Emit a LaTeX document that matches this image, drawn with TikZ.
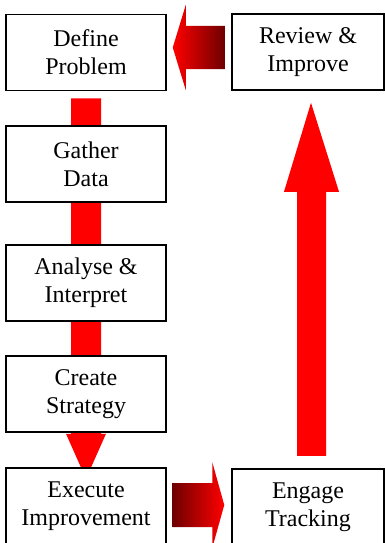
\documentclass[tikz,border=0pt]{standalone}
\usepackage{fontspec}
\setmainfont{Liberation Serif}
\usepackage{tikz}
\usetikzlibrary{calc,backgrounds}

\definecolor{darkarrow}{RGB}{110,0,0}

\begin{document}
\begin{tikzpicture}[x=1pt, y=-1pt,
    every node/.style={font=\fontsize{24}{28}\selectfont},
    stage/.style={draw, line width=1.5pt, fill=white, minimum width=160pt, minimum height=76pt, align=center, inner sep=0pt},
    sidestage/.style={stage, minimum width=152pt}]
  \useasboundingbox (0,0) rectangle (385,543);
  \node[stage] (define) at (86, 52.5) {Define\\Problem};
  \node[stage] (gather) at (86, 164) {Gather\\Data};
  \node[stage] (analyse) at (86, 283) {Analyse \&\\Interpret};
  \node[stage] (create) at (86, 394) {Create\\Strategy};
  \node[stage] (execute) at (86, 506) {Execute\\Improvement};
  \node[sidestage] (review) at (308, 52) {Review \&\\Improve};
  \node[sidestage] (engage) at (308, 507) {Engage\\Tracking};
  % down arrow behind the left column
  \begin{scope}[on background layer]
    \fill[red] ($(define.south)+(-15,7)$) -- ($(define.south)+(15,7)$) -- ($(create.south)+(15,1)$)
      -- ($(create.south)+(20,1)$) -- ($(create.south)+(0,46)$) -- ($(create.south)+(-20,1)$)
      -- ($(create.south)+(-15,1)$) -- cycle;
  \end{scope}
  % execute -> engage
  \coordinate (tipa) at ($(engage.west)+(-7,-2)$);
  \shade[left color=darkarrow, right color=red] (tipa) -- ++(-12,-43) -- ++(0,21) -- ++(-40,0)
    -- ++(0,44) -- ++(40,0) -- ++(0,21) -- cycle;
  % engage -> review
  \coordinate (tipb) at ($(review.south)+(3,12)$);
  \fill[red] (tipb) -- ++(28,89) -- ++(-13,0) -- ++(0,264) -- ++(-29,0) -- ++(0,-264)
    -- ++(-13,0) -- cycle;
  % review -> define
  \coordinate (tipc) at ($(define.east)+(6,-5)$);
  \shade[left color=red, right color=darkarrow] (tipc) -- ++(13,-42.5) -- ++(0,21) -- ++(39,0)
    -- ++(0,43) -- ++(-39,0) -- ++(0,21) -- cycle;
\end{tikzpicture}
\end{document}
